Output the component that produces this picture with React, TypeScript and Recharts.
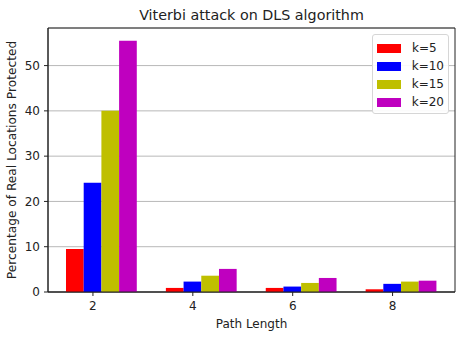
import {
  BarChart,
  Bar,
  XAxis,
  YAxis,
  CartesianGrid,
  Legend,
  ReferenceArea,
} from "recharts";

const pathLengths = [2, 4, 6, 8];
const k5 = [9.5, 0.9, 0.9, 0.6];
const k10 = [24.1, 2.3, 1.2, 1.8];
const k15 = [40.0, 3.6, 2.0, 2.3];
const k20 = [55.5, 5.1, 3.1, 2.5];
const yTicks = [0, 10, 20, 30, 40, 50];

const seriesNames = ["k=5", "k=10", "k=15", "k=20"];
const seriesColors = ["#ff0000", "#0000ff", "#bfbf00", "#bf00bf"];

const data = pathLengths.map((p, i) => ({
  path: p,
  k5: k5[i],
  k10: k10[i],
  k15: k15[i],
  k20: k20[i],
}));

const xDomain: [number, number] = [1.1, 9.25];
// matplotlib drew the groups to the right of each tick
const groupShift = 0.16;
const barDomain: [number, number] = [xDomain[0] - groupShift, xDomain[1] - groupShift];
const yDomain: [number, number] = [0, 58.3];

const font = "'DejaVu Sans', sans-serif";
const tickStyle = { fill: "#222", fontSize: 12, fontFamily: font };

function LegendBox({ payload }: any) {
  // keep the plotting order, not alphabetical
  const items = [...(payload || [])].sort(
    (a: any, b: any) => seriesNames.indexOf(a.value) - seriesNames.indexOf(b.value)
  );
  return (
    <div
      style={{
        background: "rgba(255,255,255,0.9)",
        border: "1px solid #d6d6d6",
        borderRadius: 3,
        padding: "4px 4px 2px 4px",
        fontFamily: font,
        fontSize: 12,
        color: "#222",
      }}
    >
      {items.map((p: any) => (
        <div
          key={p.value}
          style={{ display: "flex", alignItems: "center", height: 18 }}
        >
          <span
            style={{
              display: "inline-block",
              width: 24,
              height: 9,
              background: p.color,
              marginRight: 11,
            }}
          />
          <span>{p.value}</span>
        </div>
      ))}
    </div>
  );
}

export default function App() {
  const keys = ["k5", "k10", "k15", "k20"];
  return (
    <div
      style={{
        position: "absolute",
        left: 0,
        top: 0,
        width: 462,
        height: 338,
        background: "#fff",
      }}
    >
      <div
        style={{
          position: "absolute",
          left: 48,
          width: 407,
          top: 7,
          textAlign: "center",
          fontFamily: font,
          fontSize: 14.3,
          color: "#222",
        }}
      >
        Viterbi attack on DLS algorithm
      </div>
      <BarChart
        width={462}
        height={338}
        data={data}
        margin={{ top: 28, right: 7, left: 0, bottom: 0 }}
        barGap={0}
      >
        <CartesianGrid vertical={false} stroke="#b8b8b8" strokeWidth={1} />
        <XAxis
          dataKey="path"
          type="number"
          domain={xDomain}
          allowDataOverflow
          ticks={pathLengths}
          tickSize={4}
          tickMargin={5}
          tick={tickStyle}
          tickLine={{ stroke: "#222" }}
          axisLine={{ stroke: "#222" }}
          height={46}
          label={{
            value: "Path Length",
            position: "center",
            dy: 9,
            style: { fill: "#222", fontSize: 12, fontFamily: font },
          }}
        />
        <XAxis
          xAxisId="bars"
          dataKey="path"
          type="number"
          domain={barDomain}
          allowDataOverflow
          ticks={pathLengths}
          hide
        />
        <YAxis
          type="number"
          domain={yDomain}
          allowDataOverflow
          ticks={yTicks}
          width={48}
          tickSize={4}
          tickMargin={4}
          tick={tickStyle}
          tickLine={{ stroke: "#222" }}
          axisLine={{ stroke: "#222" }}
          label={{
            value: "Percentage of Real Locations Protected",
            angle: -90,
            position: "center",
            dx: -12,
            style: { fill: "#222", fontSize: 12.2, fontFamily: font },
          }}
        />
        <ReferenceArea
          x1={xDomain[0]}
          x2={xDomain[1]}
          y1={yDomain[0]}
          y2={yDomain[1]}
          stroke="#222"
          strokeWidth={1}
          fill="none"
          fillOpacity={0}
          ifOverflow="visible"
        />
        {keys.map((k, i) => (
          <Bar
            key={k}
            xAxisId="bars"
            dataKey={k}
            name={seriesNames[i]}
            fill={seriesColors[i]}
            barSize={17.7}
            isAnimationActive={false}
          />
        ))}
        <Legend
          layout="horizontal"
          verticalAlign="middle"
          content={<LegendBox />}
          wrapperStyle={{ position: "absolute", top: 34, left: 372, width: 77 }}
        />
      </BarChart>
    </div>
  );
}
